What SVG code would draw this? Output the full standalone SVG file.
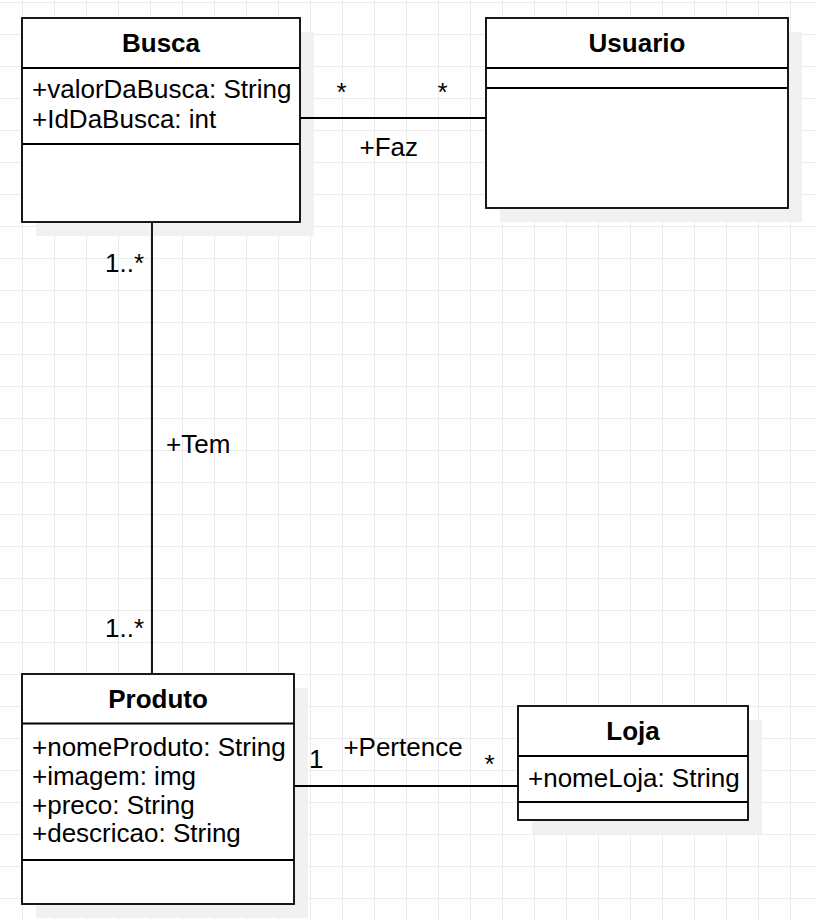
<svg xmlns="http://www.w3.org/2000/svg" width="816" height="920" viewBox="0 0 816 920">
<defs>
<pattern id="grid" x="22" y="2" width="32" height="32" patternUnits="userSpaceOnUse">
<path d="M0.5 0 V32 M0 0.5 H32" fill="none" stroke="#ececec" stroke-width="1"/>
</pattern>
</defs>
<style>
.box{fill:#ffffff;stroke:#000000;stroke-width:1.8}
.sh{fill:#f1f1f1;stroke:none}
.div{stroke:#000000;stroke-width:1.8;fill:none}
.edge{stroke:#000000;stroke-width:1.8;fill:none}
text{font-family:"Liberation Sans",Arial,Helvetica,sans-serif;font-size:26px;fill:#000000}
.title{font-weight:bold;text-anchor:middle}
.mid{text-anchor:middle}
.end{text-anchor:end}
</style>
<rect x="0" y="0" width="816" height="920" fill="#ffffff"/>
<rect x="0" y="0" width="816" height="920" fill="url(#grid)"/>

<g id="busca">
<rect class="sh" x="36" y="32" width="278" height="204"/>
<rect class="box" x="22" y="18" width="278" height="204"/>
<line class="div" x1="22" y1="68" x2="300" y2="68"/>
<line class="div" x1="22" y1="144" x2="300" y2="144"/>
<text class="title" x="161" y="52">Busca</text>
<text x="32" y="98">+valorDaBusca: String</text>
<text x="32" y="127.5">+IdDaBusca: int</text>
</g>

<g id="usuario">
<rect class="sh" x="500" y="32" width="302" height="190"/>
<rect class="box" x="486" y="18" width="302" height="190"/>
<line class="div" x1="486" y1="68" x2="788" y2="68"/>
<line class="div" x1="486" y1="88" x2="788" y2="88"/>
<text class="title" x="637" y="52">Usuario</text>
</g>

<g id="produto">
<rect class="sh" x="36" y="688" width="272" height="230"/>
<rect class="box" x="22" y="674" width="272" height="230"/>
<line class="div" x1="22" y1="723.5" x2="294" y2="723.5"/>
<line class="div" x1="22" y1="860" x2="294" y2="860"/>
<text class="title" x="158" y="708">Produto</text>
<text x="32" y="756">+nomeProduto: String</text>
<text x="32" y="785">+imagem: img</text>
<text x="32" y="813.5">+preco: String</text>
<text x="32" y="842">+descricao: String</text>
</g>

<g id="loja">
<rect class="sh" x="532" y="720" width="230" height="114"/>
<rect class="box" x="518" y="706" width="230" height="114"/>
<line class="div" x1="518" y1="756" x2="748" y2="756"/>
<line class="div" x1="518" y1="802" x2="748" y2="802"/>
<text class="title" x="633" y="740">Loja</text>
<text x="528" y="786.5">+nomeLoja: String</text>
</g>

<g id="connectors">
<line class="edge" x1="300" y1="118" x2="486" y2="118"/>
<line class="edge" x1="152" y1="222" x2="152" y2="674"/>
<line class="edge" x1="294" y1="786" x2="518" y2="786"/>
<text class="mid" x="341.5" y="101">*</text>
<text class="mid" x="442.5" y="101">*</text>
<text class="mid" x="388.8" y="156">+Faz</text>
<text class="end" x="144" y="272">1..*</text>
<text x="166" y="453">+Tem</text>
<text class="end" x="144" y="637">1..*</text>
<text x="309" y="768">1</text>
<text class="mid" x="403" y="756">+Pertence</text>
<text class="mid" x="489.5" y="773">*</text>
</g>
</svg>
